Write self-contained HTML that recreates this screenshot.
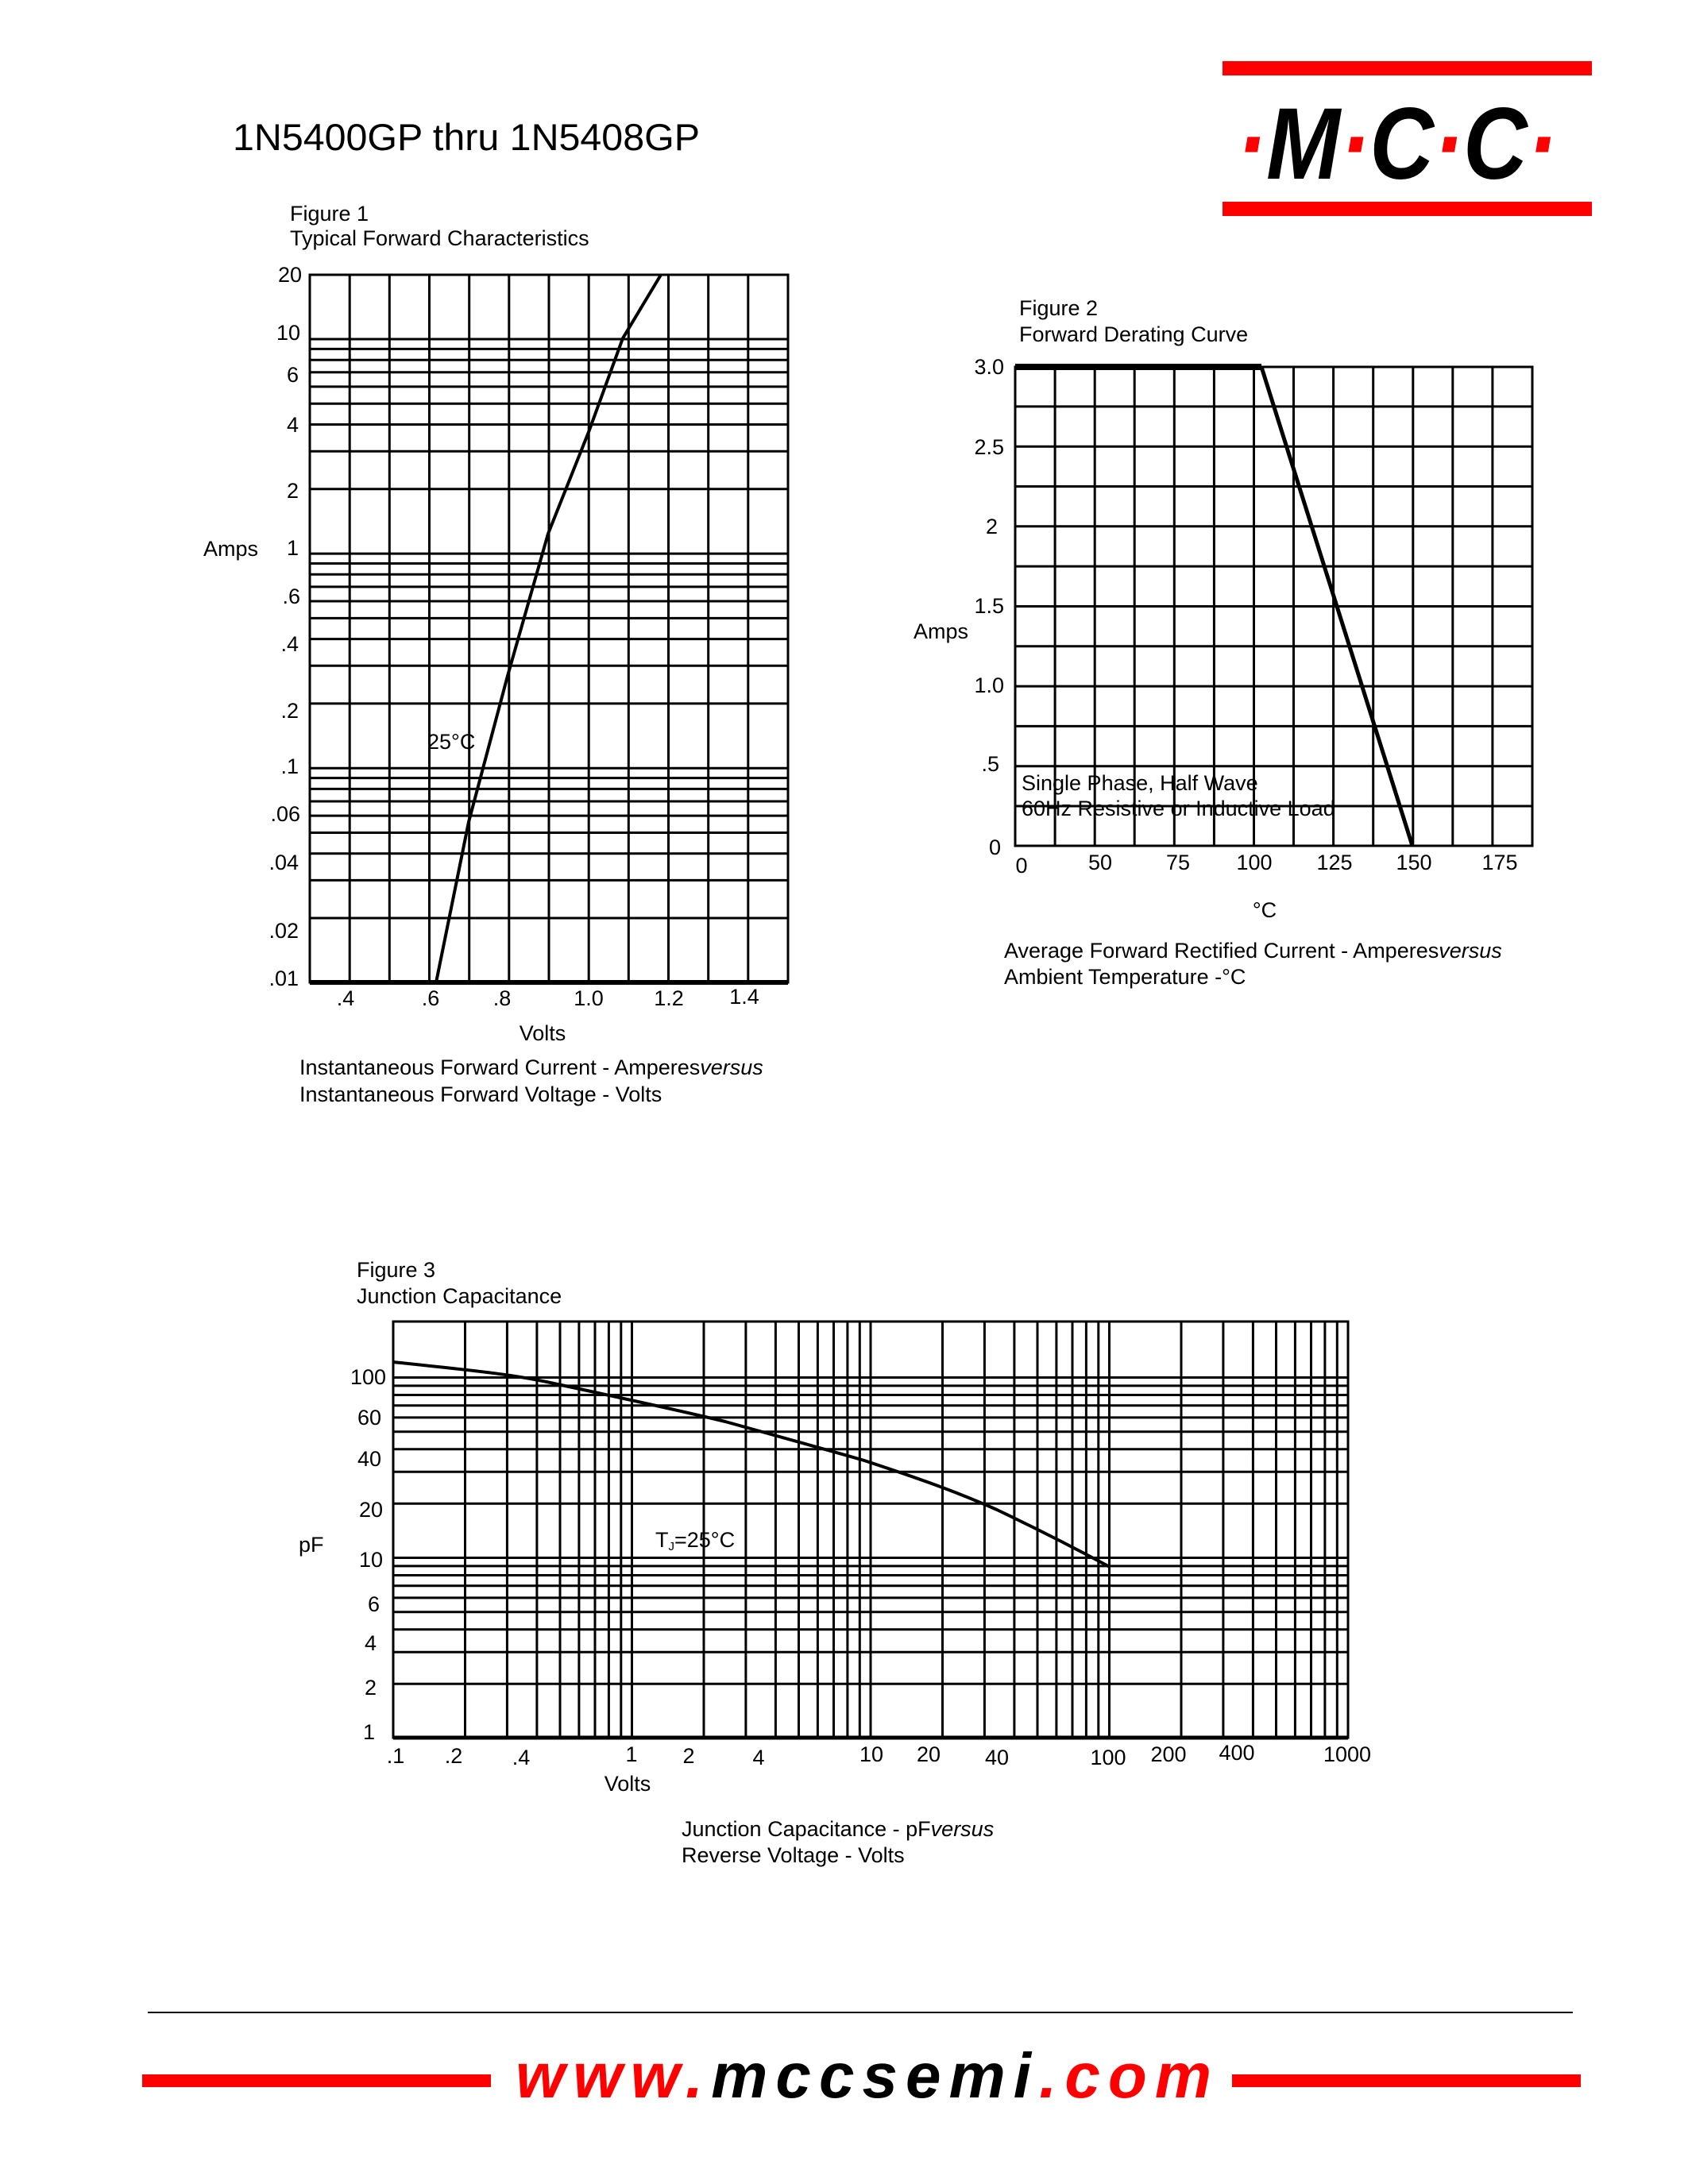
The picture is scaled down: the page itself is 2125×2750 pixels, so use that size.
<!DOCTYPE html>
<html><head><meta charset="utf-8"><style>
html,body{margin:0;padding:0;background:#fff;}
svg{display:block;}
text{font-family:"Liberation Sans",sans-serif;fill:#000;}
</style></head><body>
<svg width="2125" height="2750" viewBox="0 0 2125 2750" xmlns="http://www.w3.org/2000/svg">
<rect width="2125" height="2750" fill="#fff"/>
<!-- header -->
<text x="293" y="189" font-size="47" textLength="588" lengthAdjust="spacingAndGlyphs">1N5400GP thru 1N5408GP</text>
<rect x="1539" y="77" width="465" height="18" fill="#f00"/>
<rect x="1539" y="254" width="465" height="18" fill="#f00"/>
<text x="1557" y="225" font-size="128" font-weight="bold" font-style="italic" textLength="403" lengthAdjust="spacingAndGlyphs"><tspan fill="#f00">·</tspan>M<tspan fill="#f00">·</tspan>C<tspan fill="#f00">·</tspan>C<tspan fill="#f00">·</tspan></text>

<!-- Figure 1 -->
<g font-size="27">
<text x="365" y="278">Figure 1</text>
<text x="365" y="309">Typical Forward Characteristics</text>
<text x="256" y="700">Amps</text>
<g text-anchor="end">
<text x="380" y="355">20</text><text x="378" y="428">10</text><text x="376" y="481">6</text>
<text x="376" y="544">4</text><text x="376" y="627">2</text><text x="376" y="699">1</text>
<text x="378" y="760">.6</text><text x="376" y="820">.4</text><text x="376" y="904">.2</text>
<text x="376" y="974">.1</text><text x="378" y="1034">.06</text><text x="376" y="1095">.04</text>
<text x="376" y="1181">.02</text><text x="376" y="1241">.01</text>
</g>
<g text-anchor="middle">
<text x="435" y="1266">.4</text><text x="542" y="1266">.6</text><text x="632" y="1266">.8</text>
<text x="741" y="1266">1.0</text><text x="842" y="1266">1.2</text><text x="937" y="1264">1.4</text>
<text x="683" y="1310">Volts</text>
</g>
<text x="377" y="1353">Instantaneous Forward Current - Amperes<tspan font-style="italic">versus</tspan></text>
<text x="377" y="1387">Instantaneous Forward Voltage - Volts</text>
<text x="538" y="943">25°C</text>
</g>
<g stroke="#000" stroke-width="3">
<path d="M440.2 346V1237M490.3 346V1237M540.5 346V1237M590.7 346V1237M640.8 346V1237M691 346V1237M741.2 346V1237M791.3 346V1237M841.5 346V1237M891.7 346V1237M941.8 346V1237"/>
<path d="M390 427H992M390 439.4H992M390 453.2H992M390 468.8H992M390 486.9H992M390 508.3H992M390 534.5H992M390 568.2H992M390 615.8H992M390 697.1H992M390 709.5H992M390 723.3H992M390 738.9H992M390 757H992M390 778.4H992M390 804.6H992M390 838.3H992M390 885.9H992M390 967.2H992M390 979.6H992M390 993.4H992M390 1009H992M390 1027.1H992M390 1048.5H992M390 1074.7H992M390 1108.4H992M390 1156H992"/>
<rect x="390" y="346" width="602" height="891" fill="none"/>
<path d="M390 1237H992" stroke-width="6"/>
<path d="M549 1237L590 1035L639 851L690 672L741 544L784 426L832 346" fill="none" stroke-width="4"/>
</g>

<!-- Figure 2 -->
<g font-size="27">
<text x="1283" y="397">Figure 2</text>
<text x="1283" y="430">Forward Derating Curve</text>
<text x="1150" y="804">Amps</text>
<g text-anchor="end">
<text x="1264" y="471">3.0</text><text x="1264" y="572">2.5</text><text x="1256" y="672">2</text>
<text x="1264" y="772">1.5</text><text x="1264" y="872">1.0</text><text x="1258" y="971">.5</text>
<text x="1260" y="1076">0</text>
</g>
<g text-anchor="middle">
<text x="1286" y="1099">0</text><text x="1385" y="1095">50</text><text x="1483" y="1095">75</text>
<text x="1579" y="1095">100</text><text x="1680" y="1095">125</text><text x="1780" y="1095">150</text>
<text x="1888" y="1095">175</text>
<text x="1592" y="1155">°C</text>
</g>
<text x="1264" y="1206">Average Forward Rectified Current  -  Amperes<tspan font-style="italic">versus</tspan></text>
<text x="1264" y="1239">Ambient Temperature  -°C</text>
</g>
<g stroke="#000" stroke-width="3">
<path d="M1328.1 462V1065M1378.2 462V1065M1428.2 462V1065M1478.3 462V1065M1528.4 462V1065M1578.5 462V1065M1628.5 462V1065M1678.6 462V1065M1728.7 462V1065M1778.8 462V1065M1828.8 462V1065M1878.9 462V1065"/>
<path d="M1278 511.9H1929M1278 562.2H1929M1278 612.5H1929M1278 662.8H1929M1278 713.1H1929M1278 763.5H1929M1278 813.8H1929M1278 864.1H1929M1278 914.4H1929M1278 964.7H1929M1278 1015H1929"/>
<rect x="1278" y="462" width="651" height="603" fill="none"/>
<path d="M1278 462H1588" stroke-width="8"/>
<path d="M1588 462L1778 1065" fill="none" stroke-width="5"/>
</g>
<g font-size="27">
<text x="1286" y="995">Single Phase, Half Wave</text>
<text x="1286" y="1027">60Hz Resistive or Inductive Load</text>
</g>

<!-- Figure 3 -->
<g font-size="27">
<text x="449" y="1608">Figure 3</text>
<text x="449" y="1641">Junction Capacitance</text>
<text x="376" y="1954">pF</text>
<g text-anchor="end">
<text x="486" y="1743">100</text><text x="480" y="1794">60</text><text x="480" y="1846">40</text>
<text x="482" y="1910">20</text><text x="482" y="1973">10</text><text x="478" y="2029">6</text>
<text x="474" y="2078">4</text><text x="474" y="2134">2</text><text x="472" y="2190">1</text>
</g>
<g text-anchor="middle">
<text x="498" y="2220">.1</text><text x="571" y="2220">.2</text><text x="656" y="2222">.4</text>
<text x="795" y="2218">1</text><text x="867" y="2220">2</text><text x="955" y="2222">4</text>
<text x="1097" y="2218">10</text><text x="1169" y="2218">20</text><text x="1255" y="2222">40</text>
<text x="1395" y="2222">100</text><text x="1471" y="2218">200</text><text x="1557" y="2216">400</text>
<text x="1696" y="2218">1000</text>
<text x="790" y="2255">Volts</text>
</g>
<text x="825" y="1948">T<tspan font-size="15" dy="4">J</tspan><tspan dy="-4">=25°C</tspan></text>
<text x="858" y="2312">Junction Capacitance - pF<tspan font-style="italic">versus</tspan></text>
<text x="858" y="2345">Reverse Voltage - Volts</text>
</g>
<g stroke="#000" stroke-width="3">
<path d="M585.5 1664V2188M638.4 1664V2188M675.9 1664V2188M705 1664V2188M728.9 1664V2188M749 1664V2188M766.4 1664V2188M781.8 1664V2188M795.5 1664V2188M886 1664V2188M938.9 1664V2188M976.4 1664V2188M1005.5 1664V2188M1029.4 1664V2188M1049.5 1664V2188M1066.9 1664V2188M1082.3 1664V2188M1096 1664V2188M1186.5 1664V2188M1239.4 1664V2188M1276.9 1664V2188M1306 1664V2188M1329.9 1664V2188M1350 1664V2188M1367.4 1664V2188M1382.8 1664V2188M1396.5 1664V2188M1487 1664V2188M1539.9 1664V2188M1577.4 1664V2188M1606.5 1664V2188M1630.4 1664V2188M1650.5 1664V2188M1667.9 1664V2188M1683.3 1664V2188"/>
<path d="M495 2120.2H1697M495 2080.2H1697M495 2051.8H1697M495 2029.8H1697M495 2011.9H1697M495 1996.7H1697M495 1983.5H1697M495 1971.9H1697M495 1961.5H1697M495 1893.2H1697M495 1853.2H1697M495 1824.8H1697M495 1802.8H1697M495 1784.9H1697M495 1769.7H1697M495 1756.5H1697M495 1744.9H1697M495 1734.5H1697"/>
<rect x="495" y="1664" width="1202" height="524" fill="none"/>
<path d="M495 2188H1697" stroke-width="5"/>
<path d="M495 1715C600 1726 650 1731 702 1743C800 1764 860 1777 913 1790C1000 1814 1040 1825 1088 1839C1170 1866 1210 1881 1255 1901C1320 1932 1360 1953 1397 1973" fill="none" stroke-width="4"/>
</g>

<!-- footer -->
<rect x="186" y="2533" width="1794" height="2" fill="#000"/>
<rect x="179" y="2612" width="439" height="16" fill="#f00"/>
<rect x="1551" y="2612" width="439" height="16" fill="#f00"/>
<text x="649" y="2641" font-size="80" font-weight="bold" font-style="italic" textLength="876" lengthAdjust="spacing"><tspan fill="#f00">www.</tspan>mccsemi<tspan fill="#f00">.com</tspan></text>
</svg>
</body></html>
